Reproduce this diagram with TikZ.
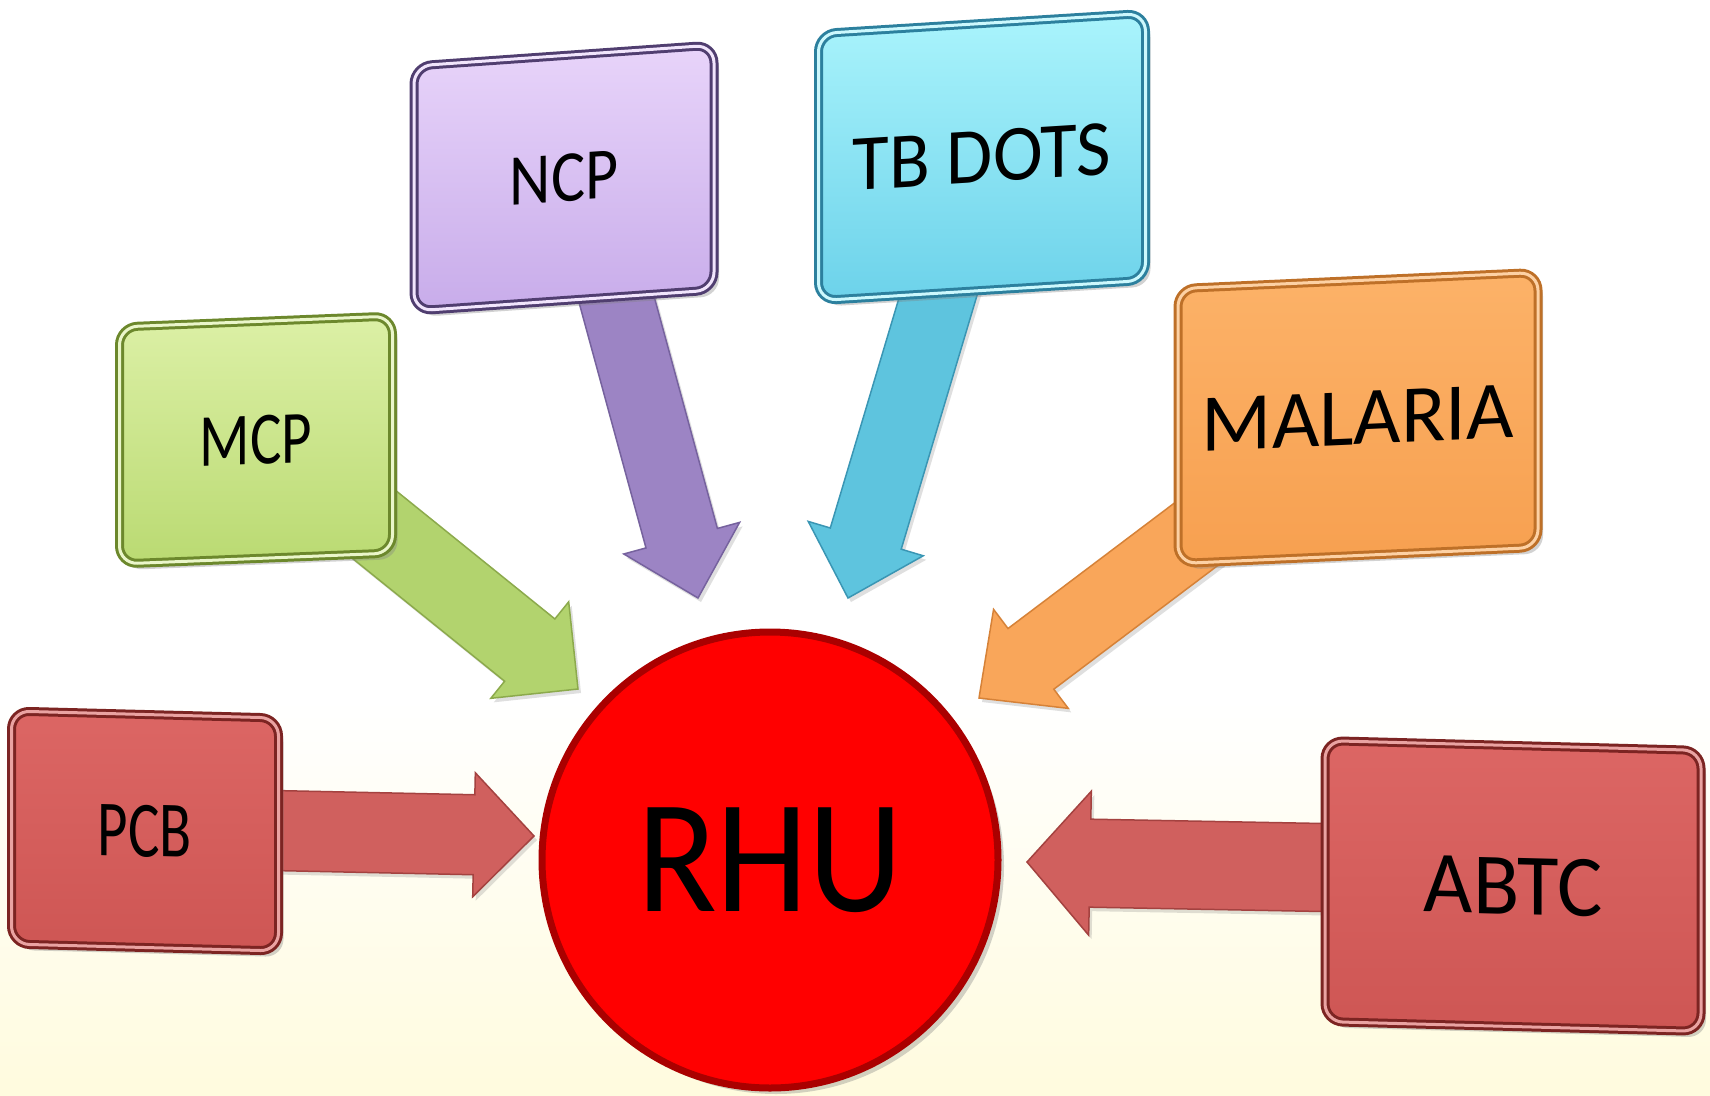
\documentclass[tikz,border=0pt]{standalone}
\usepackage{fontspec}
\setmainfont{Carlito}
\usepackage{graphicx}
\usetikzlibrary{calc,shadows}

\definecolor{bgy}{RGB}{255,251,222}
\definecolor{grT}{RGB}{220,240,166}\definecolor{grB}{RGB}{186,218,114}\definecolor{grD}{RGB}{108,136,44}
\definecolor{grA}{RGB}{178,211,110}\definecolor{grAD}{RGB}{140,170,76}
\definecolor{puT}{RGB}{232,212,250}\definecolor{puB}{RGB}{200,172,234}\definecolor{puD}{RGB}{80,62,112}
\definecolor{puA}{RGB}{156,132,196}\definecolor{puAD}{RGB}{118,98,158}
\definecolor{cyT}{RGB}{170,244,252}\definecolor{cyB}{RGB}{108,210,234}\definecolor{cyD}{RGB}{44,128,158}
\definecolor{cyA}{RGB}{94,196,222}\definecolor{cyAD}{RGB}{58,150,180}
\definecolor{orT}{RGB}{252,178,104}\definecolor{orB}{RGB}{247,160,80}\definecolor{orD}{RGB}{190,112,40}
\definecolor{orA}{RGB}{249,166,90}\definecolor{orAD}{RGB}{214,130,56}
\definecolor{rdT}{RGB}{220,102,100}\definecolor{rdB}{RGB}{206,86,84}\definecolor{rdD}{RGB}{124,36,34}
\definecolor{rdA}{RGB}{208,96,94}\definecolor{rdAD}{RGB}{164,66,64}
\definecolor{ballR}{RGB}{255,0,0}\definecolor{ballD}{RGB}{170,0,0}

\newcommand{\blockarrow}[6]{% style, from, to, half body, half head, head length
  \coordinate (ba-n) at ($(#3)!#6!(#2)$);
  \filldraw[#1] ($(#2)!#4!90:(#3)$) -- ($(ba-n)!#4!90:(#3)$) -- ($(ba-n)!#5!90:(#3)$)
    -- (#3) -- ($(ba-n)!#5!-90:(#3)$) -- ($(ba-n)!#4!-90:(#3)$) -- ($(#2)!#4!-90:(#3)$) -- cycle;
}

\begin{document}
\begin{tikzpicture}[x=1pt,y=-1pt,
  boxstyle/.style={rounded corners=18pt, line width=3pt, double distance=3pt,
     inner sep=0pt, align=center,
     drop shadow={shadow xshift=5pt, shadow yshift=-6pt, opacity=0.35}},
  arrowstyle/.style={line width=1.5pt, line join=miter,
     drop shadow={shadow xshift=3pt, shadow yshift=-4pt, opacity=0.25}}]
\useasboundingbox (0,0) rectangle (1710,1095);
\fill[white] (0,0) rectangle (1710,700);
\shade[top color=white, bottom color=bgy] (0,700) rectangle (1710,1095);

% centre
\node[circle, minimum size=456pt, inner sep=0pt, fill=ballR, draw=ballD, line width=7pt,
      drop shadow={shadow xshift=6pt, shadow yshift=-6pt, opacity=0.35}]
      (rhu) at (770,860) {\fontsize{147}{150}\selectfont\scalebox{1}[1.1]{RHU}};

% arrow ends
\coordinate (pcb-t) at (250,830);   \coordinate (pcb-h) at (534,836);
\coordinate (abtc-t) at (1350,868); \coordinate (abtc-h) at (1027,862);
\coordinate (mcp-t) at (350,505);   \coordinate (mcp-h) at (578,689);
\coordinate (ncp-t) at (614,290);   \coordinate (ncp-h) at (698,598);
\coordinate (tb-t) at (943,280);    \coordinate (tb-h) at (848,598);
\coordinate (mal-t) at (1215,520);  \coordinate (mal-h) at (979,698);

\blockarrow{arrowstyle, fill=rdA, draw=rdAD}{pcb-t}{pcb-h}{40pt}{62pt}{60pt}
\blockarrow{arrowstyle, fill=rdA, draw=rdAD}{abtc-t}{abtc-h}{44pt}{72pt}{63pt}
\blockarrow{arrowstyle, fill=grA, draw=grAD}{mcp-t}{mcp-h}{40pt}{62pt}{62pt}
\blockarrow{arrowstyle, fill=puA, draw=puAD}{ncp-t}{ncp-h}{37pt}{60pt}{62pt}
\blockarrow{arrowstyle, fill=cyA, draw=cyAD}{tb-t}{tb-h}{37pt}{60pt}{62pt}
\blockarrow{arrowstyle, fill=orA, draw=orAD}{mal-t}{mal-h}{38pt}{62pt}{65pt}

% boxes
\node[boxstyle, minimum width=273pt, minimum height=237pt, yslant=0.04,
      top color=grT, bottom color=grB, draw=grD, double=grT!60!white] (mcp) at (256,440)
      {\fontsize{59}{60}\selectfont\scalebox{1}[1.27]{MCP}};
\node[boxstyle, minimum width=300pt, minimum height=245pt, yslant=0.07,
      top color=puT, bottom color=puB, draw=puD, double=puT!60!white] (ncp) at (564,178)
      {\fontsize{64}{66}\selectfont\scalebox{1}[1.14]{NCP}};
\node[boxstyle, minimum width=327pt, minimum height=267pt, yslant=0.062,
      top color=cyT, bottom color=cyB, draw=cyD, double=cyT!60!white] (tb) at (982,157)
      {\fontsize{75}{78}\selectfont\scalebox{1}[1.06]{TB DOTS}};
\node[boxstyle, minimum width=360pt, minimum height=275pt, yslant=0.045,
      top color=orT, bottom color=orB, draw=orD, double=orT!60!white] (mal) at (1358,418)
      {\fontsize{82}{84}\selectfont MALARIA};
\node[boxstyle, minimum width=267pt, minimum height=233pt, yslant=-0.026,
      top color=rdT, bottom color=rdB, draw=rdD, double=rdT!60!white] (pcb) at (145,831)
      {\fontsize{59}{60}\selectfont\scalebox{1}[1.35]{PCB}};
\node[boxstyle, minimum width=376pt, minimum height=281pt, yslant=-0.026,
      top color=rdT, bottom color=rdB, draw=rdD, double=rdT!60!white] (abtc) at (1513,886)
      {\fontsize{85}{86}\selectfont\scalebox{1}[1.03]{ABTC}};
\end{tikzpicture}
\end{document}
